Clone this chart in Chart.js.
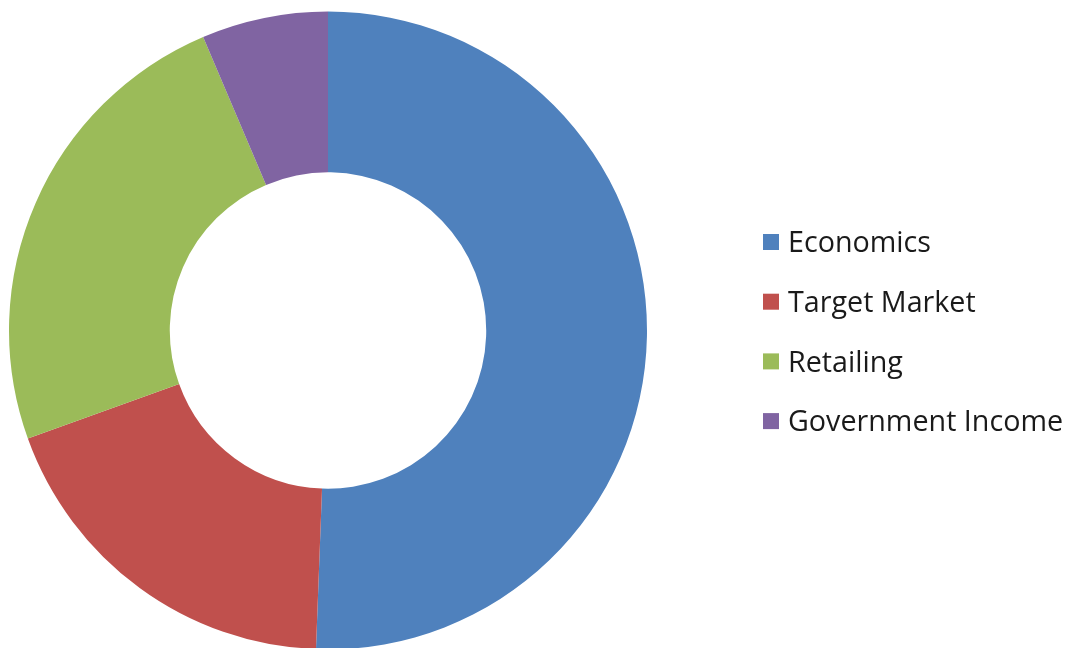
<!DOCTYPE html>
<html>
<head>
<meta charset="utf-8">
<title>Share by area</title>
<script src="https://cdn.jsdelivr.net/npm/chart.js@4/dist/chart.umd.min.js"></script>
<style>
  html, body { margin: 0; padding: 0; background: #ffffff; overflow: hidden; }
  #wrap { width: 1066px; height: 648px; overflow: hidden; }
  canvas { display: block; }
</style>
</head>
<body>
<div id="wrap"><canvas id="chart" width="1066" height="650"></canvas></div>
<script>
// Categories and their shares (percent)
const categories = ['Economics', 'Target Market', 'Retailing', 'Government Income'];
const shares = [50.6, 18.9, 24.1, 6.4];
const sliceColors = ['#4F81BD', '#C0504D', '#9BBB59', '#8064A2'];

// Legend drawn to the right of the ring: coloured square followed by the label
const sideLegend = {
  id: 'sideLegend',
  afterDraw(chart, args, opts) {
    const ctx = chart.ctx;
    const ds = chart.data.datasets[0];
    ctx.save();
    ctx.font = opts.fontSize + 'px ' + opts.fontFamily;
    ctx.textBaseline = 'middle';
    ctx.textAlign = 'left';
    chart.data.labels.forEach((label, i) => {
      const cy = opts.top + i * opts.step;
      ctx.fillStyle = ds.backgroundColor[i];
      ctx.fillRect(opts.left, cy - opts.box / 2, opts.box, opts.box);
      ctx.fillStyle = opts.color;
      ctx.fillText(label, opts.left + opts.box + opts.gap, cy + opts.textShift);
    });
    ctx.restore();
  }
};

new Chart(document.getElementById('chart'), {
  type: 'doughnut',
  data: {
    labels: categories,
    datasets: [{
      data: shares,
      backgroundColor: sliceColors,
      borderWidth: 0,
      hoverOffset: 0
    }]
  },
  options: {
    responsive: false,
    animation: false,
    cutout: '49.6%',
    layout: { padding: { left: 9, top: 11, right: 419, bottom: 0 } },
    plugins: {
      legend: { display: false },
      tooltip: { enabled: false },
      sideLegend: {
        left: 763, top: 242, step: 59.7, box: 16, gap: 9,
        fontSize: 28.7, fontFamily: '"Open Sans", sans-serif',
        color: '#1a1a1a', textShift: 2
      }
    }
  },
  plugins: [sideLegend]
});
</script>
</body>
</html>
